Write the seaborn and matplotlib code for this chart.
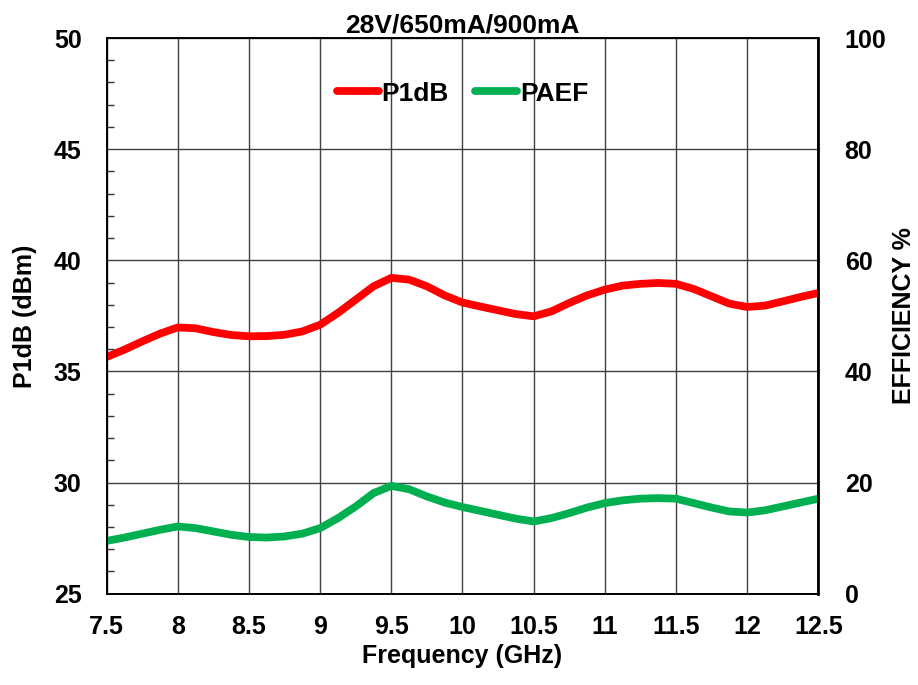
import matplotlib
matplotlib.use("Agg")
import matplotlib.pyplot as plt
import seaborn as sns
import pandas as pd
from matplotlib.ticker import MultipleLocator

freq = [7.5, 7.625, 7.75, 7.875, 8.0, 8.125, 8.25, 8.375, 8.5, 8.625, 8.75, 8.875,
        9.0, 9.125, 9.25, 9.375, 9.5, 9.625, 9.75, 9.875,
        10.0, 10.125, 10.25, 10.375, 10.5, 10.625, 10.75, 10.875,
        11.0, 11.125, 11.25, 11.375, 11.5, 11.625, 11.75, 11.875,
        12.0, 12.125, 12.25, 12.375, 12.5]
p1db = [35.65, 35.98, 36.35, 36.70, 36.98, 36.94, 36.77, 36.64, 36.58, 36.59, 36.65, 36.80,
        37.10, 37.63, 38.23, 38.83, 39.21, 39.13, 38.83, 38.42,
        38.10, 37.92, 37.75, 37.58, 37.48, 37.70, 38.08, 38.42,
        38.68, 38.86, 38.94, 38.98, 38.94, 38.71, 38.38, 38.05,
        37.90, 37.96, 38.15, 38.35, 38.53]
paef = [9.5, 10.1, 10.8, 11.5, 12.1, 11.8, 11.2, 10.6, 10.2, 10.1, 10.3, 10.8,
        11.8, 13.6, 15.7, 18.1, 19.4, 18.8, 17.5, 16.4,
        15.6, 14.9, 14.2, 13.5, 13.0, 13.6, 14.5, 15.5,
        16.3, 16.8, 17.1, 17.2, 17.1, 16.3, 15.5, 14.8,
        14.6, 15.0, 15.7, 16.4, 17.1]

title = "28V/650mA/900mA"
xlabel = "Frequency (GHz)"
ylabel_left = "P1dB (dBm)"
ylabel_right = "EFFICIENCY %"
xticks = [7.5, 8, 8.5, 9, 9.5, 10, 10.5, 11, 11.5, 12, 12.5]
xticklabels = ["7.5", "8", "8.5", "9", "9.5", "10", "10.5", "11", "11.5", "12", "12.5"]

df = pd.DataFrame({"freq": freq, "P1dB": p1db, "PAEF": paef})

sns.set_theme(style="white")
plt.rcParams['font.family'] = ['Liberation Sans', 'DejaVu Sans']
plt.rcParams['font.weight'] = 'bold'
for k in ["text.color", "axes.labelcolor", "xtick.color", "ytick.color"]:
    plt.rcParams[k] = "black"

fig = plt.figure(figsize=(9.18, 6.85), dpi=100)
ax = fig.add_axes([0.1162, 0.1333, 0.7752, 0.8112])
ax2 = ax.twinx()

red = "#FF0000"
green = "#00B050"

sns.lineplot(data=df, x="freq", y="P1dB", ax=ax, color=red, linewidth=5.6,
             solid_capstyle="butt", solid_joinstyle="round", label="P1dB", legend=False)
sns.lineplot(data=df, x="freq", y="PAEF", ax=ax2, color=green, linewidth=5.6,
             solid_capstyle="butt", solid_joinstyle="round", label="PAEF", legend=False)

ax.set_xlim(7.5, 12.5)
ax.set_ylim(25, 50)
ax2.set_ylim(0, 100)
ax.set_xticks(xticks)
ax.set_xticklabels(xticklabels)
ax.set_yticks([25, 30, 35, 40, 45, 50])
ax.yaxis.set_minor_locator(MultipleLocator(1))
ax2.set_yticks([0, 20, 40, 60, 80, 100])

ax.grid(True, which="major", color="#404040", linewidth=1.0)
ax.set_axisbelow(True)
for a in (ax, ax2):
    for s in a.spines.values():
        s.set_color("black")
        s.set_linewidth(1.2)
ax2.spines["right"].set_linewidth(2)

ax.tick_params(axis="x", which="major", length=0, pad=15, labelsize=18)
ax.tick_params(axis="y", which="major", length=0, pad=18, labelsize=18)
ax.tick_params(axis="y", which="minor", direction="in", length=5, width=1, color="#333333", left=True)
ax2.tick_params(axis="y", which="major", length=0, pad=19, labelsize=18)
for lab in ax.get_xticklabels() + ax.get_yticklabels() + ax2.get_yticklabels():
    lab.set_fontweight("bold")

ax.set_xlabel(xlabel, fontsize=18, fontweight="bold", labelpad=4)
ax.set_ylabel(ylabel_left, fontsize=18, fontweight="bold", labelpad=12)
ax2.set_ylabel(ylabel_right, fontsize=18, fontweight="bold", labelpad=4)
ax.set_title(title, fontsize=19, fontweight="bold", pad=4)

h1, l1 = ax.get_legend_handles_labels()
h2, l2 = ax2.get_legend_handles_labels()
leg = ax2.legend(h1 + h2, l1 + l2, loc="center", bbox_to_anchor=(0.5, 0.9),
                 ncol=2, frameon=False, handlelength=1.6,
                 handletextpad=0.1, columnspacing=1.0, prop={"weight": "bold", "size": 19})
for line in leg.get_lines():
    line.set_solid_capstyle("round")

fig.savefig("out.png", dpi=100)
